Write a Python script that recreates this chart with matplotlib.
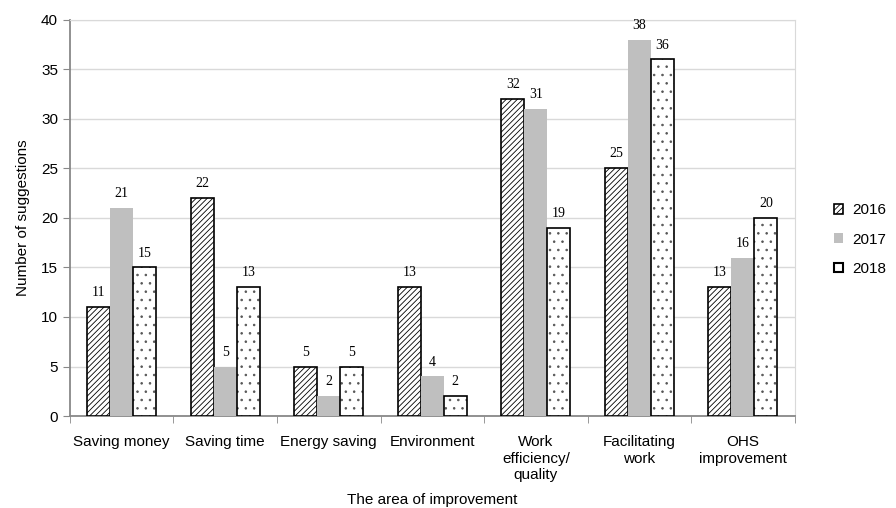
import matplotlib
matplotlib.use('Agg')
from matplotlib import pyplot as plt
from matplotlib.patches import Patch
import numpy as np

plt.rcParams['hatch.linewidth'] = 0.6

categories = ['Saving money', 'Saving time', 'Energy saving', 'Environment',
              'Work\nefficiency/\nquality', 'Facilitating\nwork', 'OHS\nimprovement']
years = ['2016', '2017', '2018']
v2016 = [11, 22, 5, 13, 32, 25, 13]
v2017 = [21, 5, 2, 4, 31, 38, 16]
v2018 = [15, 13, 5, 2, 19, 36, 20]

fig = plt.figure(figsize=(8.96, 5.08), dpi=100)
ax = fig.add_axes([0.078, 0.181, 0.809, 0.780])

x = np.arange(len(categories))
w = 0.222
series = [v2016, v2017, v2018]

# 2016: hatched, 2017: plain grey, 2018: dotted with grey dots and black outline
ax.bar(x - w, v2016, w, facecolor='white', edgecolor='black', hatch='//////',
       linewidth=1.2, zorder=3)
ax.bar(x, v2017, w, facecolor='#bfbfbf', linewidth=0, zorder=3)
ax.bar(x + w, v2018, w, facecolor='white', edgecolor='#555555', hatch='..',
       linewidth=0, zorder=3)
ax.bar(x + w, v2018, w, facecolor='none', edgecolor='black', linewidth=1.2, zorder=3)

for i, vals in enumerate(series):
    for xi, v in zip(x + (i - 1) * w, vals):
        ax.text(xi, v + 0.8, str(v), ha='center', va='bottom',
                fontsize=10, family='Liberation Serif', zorder=4)

ax.set_xlim(-0.5, len(categories) - 0.5)
ax.set_ylim(0, 40)
ax.set_yticks(range(0, 41, 5))
ax.yaxis.grid(True, color='#d9d9d9', linewidth=1, zorder=0)
ax.set_axisbelow(True)

ax.set_xticks(x)
ax.set_xticklabels(categories, family='Liberation Sans', fontsize=11, va='top')
ax.set_xticks(np.arange(len(categories) + 1) - 0.5, minor=True)
ax.tick_params(axis='x', which='major', length=0, pad=14)
ax.tick_params(axis='x', which='minor', length=5, color='#888888')
ax.tick_params(axis='y', length=5, color='#888888', labelsize=11)
for lab in ax.get_yticklabels():
    lab.set_family('Liberation Sans')

ax.spines['left'].set_color('#888888')
ax.spines['bottom'].set_color('#888888')
ax.spines['left'].set_linewidth(1.3)
ax.spines['bottom'].set_linewidth(1.3)
ax.spines['top'].set_color('#d9d9d9')
ax.spines['right'].set_color('#d9d9d9')

ax.set_ylabel('Number of suggestions', family='Liberation Sans', fontsize=11, labelpad=8)
ax.set_xlabel('The area of improvement', family='Liberation Sans', fontsize=11, labelpad=8)

handles = [
    Patch(facecolor='white', edgecolor='black', hatch='//////', linewidth=1.2),
    Patch(facecolor='#bfbfbf', linewidth=0),
    Patch(facecolor='white', edgecolor='black', linewidth=1.5),
]
ax.legend(handles, years, loc='center left', bbox_to_anchor=(1.035, 0.445), frameon=False,
          prop={'family': 'Liberation Sans', 'size': 11},
          handlelength=0.6, handleheight=0.6, labelspacing=1.0, handletextpad=0.6)

fig.savefig('out.png', dpi=100)
